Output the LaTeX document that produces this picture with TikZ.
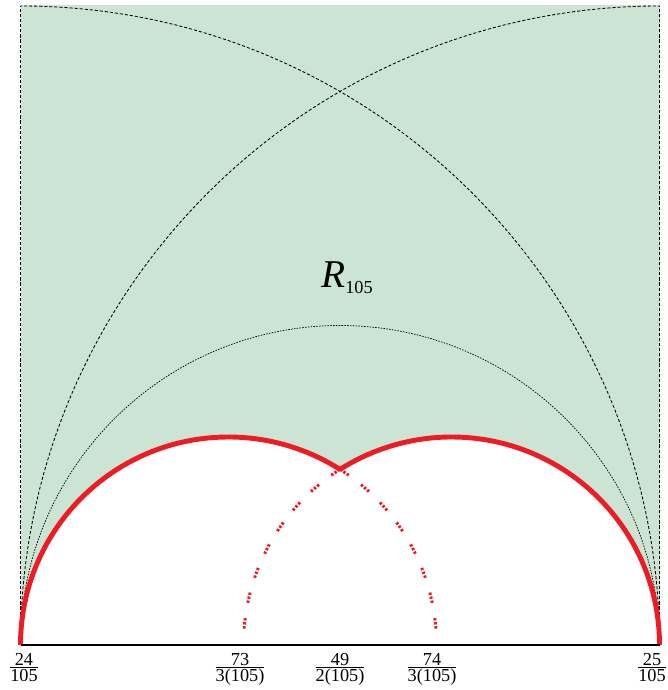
\documentclass[tikz,border=0pt]{standalone}
\usepackage{amsmath}
\usepackage{fontspec}
\setmainfont{Liberation Serif}
\usetikzlibrary{calc}
\definecolor{regiongreen}{RGB}{203,228,211}
\definecolor{fordred}{RGB}{237,28,36}
\newcommand{\tickfrac}[2]{$\genfrac{}{}{0.6pt}{1}{\mbox{#1}}{\mbox{#2}}$}
\tikzset{
  cusparc/.style={draw=fordred,line width=3.5pt},
  hiddenarc/.style={draw=fordred,line width=2.1pt,dash pattern=on 1.7pt off 1.2pt on 1.7pt off 1.2pt on 1.7pt off 11pt},
  geod/.style={draw,line width=0.6pt,dash pattern=on 2.2pt off 1.4pt},
  halfgeod/.style={draw,line width=0.5pt,dash pattern=on 1.1pt off 0.9pt},
  ticklab/.style={anchor=north,inner sep=0pt,font=\fontsize{13}{15}\selectfont}
}

\begin{document}
\begin{tikzpicture}[x=0.025cm,y=0.025cm]
  \useasboundingbox (0,0) rectangle (668,690);
  \coordinate (a) at (20.5,45);
  \coordinate (b) at (659.5,45);
  \coordinate (tl) at (20.5,684);
  \coordinate (tr) at (659.5,684);
  \coordinate (cusp) at (340,220.6);
  \fill[regiongreen] (a) rectangle (659.5,685);
  \fill[white] (a) arc[start angle=180,end angle=0,radius=208] -- cycle;
  \fill[white] (b) arc[start angle=0,end angle=180,radius=208] -- cycle;
  \draw[geod] (a) -- (tl);
  \draw[geod] (b) -- (tr);
  \draw[geod] (a) arc[start angle=180,end angle=90,radius=639];
  \draw[geod] (b) arc[start angle=0,end angle=90,radius=639];
  \draw[halfgeod] (a) arc[start angle=180,end angle=0,radius=319.5];
  \draw[hiddenarc] (cusp) arc[start angle=57.59,end angle=0,radius=208];
  \draw[hiddenarc] (cusp) arc[start angle=122.41,end angle=180,radius=208];
  \draw[cusparc] (a) arc[start angle=180,end angle=57.59,radius=208];
  \draw[cusparc] (b) arc[start angle=0,end angle=122.41,radius=208];
  \draw[line width=0.8pt] (a) -- (b);
  \node[ticklab] (l24) at (24,37) {\tickfrac{24}{105}};
  \node[ticklab] (l73) at (240,37) {\tickfrac{73}{3(105)}};
  \node[ticklab] (l49) at (340,37) {\tickfrac{49}{2(105)}};
  \node[ticklab] (l74) at (432,37) {\tickfrac{74}{3(105)}};
  \node[ticklab] (l25) at (652,37) {\tickfrac{25}{105}};
  \node[anchor=base west,inner sep=0pt] (reg) at (321,402)
    {{\fontsize{28}{30}\selectfont\itshape R}\raisebox{-4pt}{\fontsize{13}{15}\selectfont 105}};
\end{tikzpicture}
\end{document}
